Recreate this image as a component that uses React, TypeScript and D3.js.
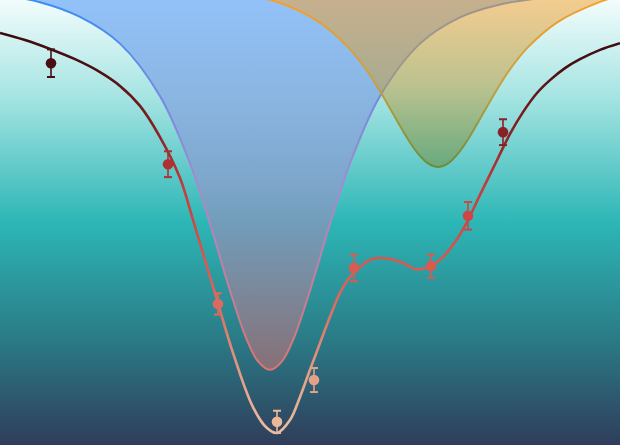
import React from 'react';
import * as d3 from 'd3';

const W = 620;
const H = 445;

// wavelength axis (nm) and normalised intensity
const blueX = [400, 420, 440, 460, 480, 495, 505, 515, 523, 529, 535, 541, 547, 555, 565, 575, 590, 610, 630, 650, 670, 690, 710];
const blueY = [1.012, 0.995, 0.962, 0.902, 0.784, 0.633, 0.497, 0.347, 0.241, 0.188, 0.169, 0.188, 0.241, 0.347, 0.497, 0.633, 0.784, 0.902, 0.961, 0.99, 1.004, 1.011, 1.015];

const orangeX = [400, 460, 499, 519, 539, 559, 574, 584, 592, 599, 604, 609, 614, 619, 624, 629, 634, 639, 646, 654, 664, 679, 699, 710];
const orangeY = [1.025, 1.024, 1.02, 1.013, 0.995, 0.952, 0.894, 0.838, 0.78, 0.725, 0.687, 0.655, 0.633, 0.625, 0.633, 0.655, 0.687, 0.725, 0.78, 0.838, 0.894, 0.951, 0.994, 1.01];

const fitX = [400, 412.5, 425, 437.5, 450, 460, 470, 480, 490, 496.5, 503.5, 508.5, 516.5, 526.5, 533.5, 538.5, 545, 550, 555, 560, 565, 570, 575, 585, 588.5, 595, 601.5, 607.5, 611.5, 615.5, 621.5, 627.5, 633.5, 640, 648.5, 655, 661.5, 668.5, 675, 682.5, 690, 700, 710];
const fitY = [0.926, 0.91, 0.89, 0.867, 0.838, 0.807, 0.762, 0.692, 0.6, 0.506, 0.4, 0.326, 0.207, 0.085, 0.038, 0.027, 0.056, 0.108, 0.169, 0.229, 0.288, 0.342, 0.378, 0.416, 0.42, 0.418, 0.409, 0.3955, 0.3955, 0.402, 0.4225, 0.456, 0.501, 0.562, 0.64, 0.699, 0.748, 0.791, 0.82, 0.847, 0.867, 0.888, 0.903];

const ptX = [425.5, 484, 509, 538.5, 557, 577, 615.5, 634, 651.5];
const ptY = [0.858, 0.631, 0.317, 0.052, 0.146, 0.398, 0.402, 0.515, 0.703];
const ptErr = [0.031, 0.029, 0.024, 0.025, 0.027, 0.03, 0.026, 0.031, 0.029];

// colour ramp of the fit (by intensity)
const rampV = [1.0, 0.85, 0.7, 0.58, 0.45, 0.32, 0.15, 0.0];
const rampC = ['#2e080c', '#4a0f13', '#8a2226', '#c43c3c', '#d4524c', '#dc6a5e', '#e4a088', '#eec4a4'];

export default function App() {
  const x = d3.scaleLinear().domain([400, 710]).range([0, W]);
  const y = d3.scaleLinear().domain([0, 1]).range([H, 0]);
  const color = d3.scaleLinear<string>().domain(rampV).range(rampC).clamp(true);

  const blue = blueX.map((v, i) => [v, blueY[i]] as [number, number]);
  const orange = orangeX.map((v, i) => [v, orangeY[i]] as [number, number]);
  const fit = fitX.map((v, i) => [v, fitY[i]] as [number, number]);

  const line = d3.line<[number, number]>().x(d => x(d[0])).y(d => y(d[1])).curve(d3.curveCatmullRom.alpha(0.5));
  const area = d3.area<[number, number]>().x(d => x(d[0])).y0(y(1.08)).y1(d => y(d[1])).curve(d3.curveCatmullRom.alpha(0.5));

  const blueMin = y(d3.min(blueY)!);
  const orangeMin = y(d3.min(orangeY)!);

  return (
    <svg width={W} height={H} style={{ position: 'absolute', left: 0, top: 0, display: 'block' }}>
      <defs>
        <linearGradient id="bg" x1="0" y1="0" x2="0" y2="1">
          <stop offset="0" stopColor="#f2fcfc" />
          <stop offset="0.22" stopColor="#a4e4e2" />
          <stop offset="0.5" stopColor="#2db6b6" />
          <stop offset="0.75" stopColor="#2a7e88" />
          <stop offset="1" stopColor="#2f3d5b" />
        </linearGradient>
        <linearGradient id="blueStroke" gradientUnits="userSpaceOnUse" x1="0" y1={y(1)} x2="0" y2={blueMin}>
          <stop offset="0" stopColor="#3b8cf5" />
          <stop offset="0.5" stopColor="#a58ad0" />
          <stop offset="1" stopColor="#dc7474" />
        </linearGradient>
        <linearGradient id="orangeStroke" gradientUnits="userSpaceOnUse" x1="0" y1={y(1)} x2="0" y2={orangeMin}>
          <stop offset="0" stopColor="#f5a02c" />
          <stop offset="0.5" stopColor="#c8a040" />
          <stop offset="1" stopColor="#6e8c38" />
        </linearGradient>
        <linearGradient id="fitStroke" gradientUnits="userSpaceOnUse" x1="0" y1={y(1)} x2="0" y2={y(0)}>
          {rampV.map((v, i) => (
            <stop key={i} offset={1 - v} stopColor={rampC[i]} />
          ))}
        </linearGradient>
      </defs>
      <rect x={0} y={0} width={W} height={H} fill="url(#bg)" />

      <path d={area(blue)!} fill="url(#blueStroke)" fillOpacity={0.52} />
      <path d={line(blue)!} fill="none" stroke="url(#blueStroke)" strokeWidth={2} />

      <path d={area(orange)!} fill="url(#orangeStroke)" fillOpacity={0.52} />
      <path d={line(orange)!} fill="none" stroke="url(#orangeStroke)" strokeWidth={2} />

      <path d={line(fit)!} fill="none" stroke="url(#fitStroke)" strokeWidth={2.6} />

      {ptX.map((v, i) => {
        const c = color(ptY[i]);
        const cx = x(v);
        const top = y(ptY[i] + ptErr[i]);
        const bot = y(ptY[i] - ptErr[i]);
        return (
          <g key={i}>
            <line x1={cx} x2={cx} y1={top} y2={bot} stroke={c} strokeWidth={1.6} />
            <line x1={cx - 4} x2={cx + 4} y1={top} y2={top} stroke={c} strokeWidth={2} />
            <line x1={cx - 4} x2={cx + 4} y1={bot} y2={bot} stroke={c} strokeWidth={2} />
            <circle cx={cx} cy={y(ptY[i])} r={5.3} fill={c} />
          </g>
        );
      })}
    </svg>
  );
}
